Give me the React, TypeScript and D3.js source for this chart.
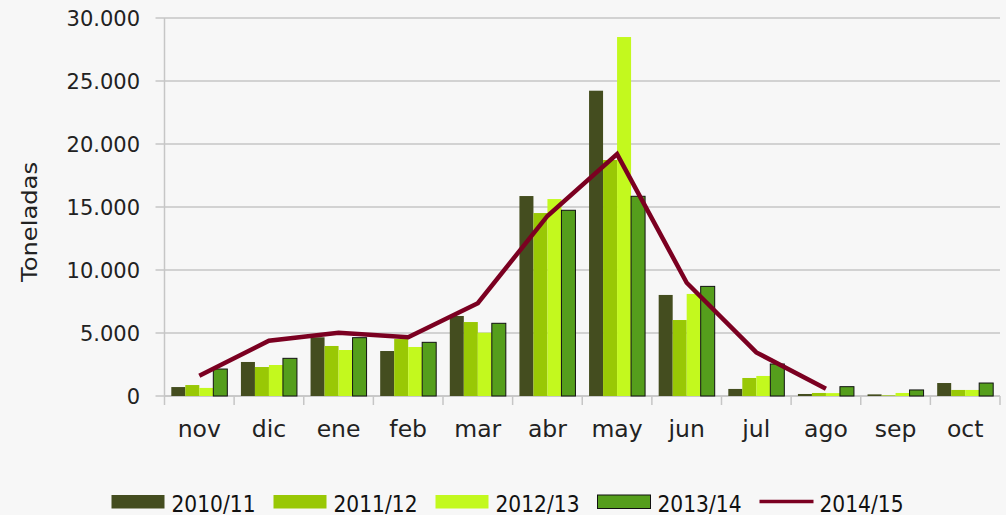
import { useEffect, useRef } from 'react'
import * as d3 from 'd3'

const MONTHS = ['nov', 'dic', 'ene', 'feb', 'mar', 'abr', 'may', 'jun', 'jul', 'ago', 'sep', 'oct']
const BAR_SERIES = ['2010/11', '2011/12', '2012/13', '2013/14']
const LINE_SERIES = '2014/15'

const S2010 = [710, 2700, 4660, 3570, 6350, 15870, 24230, 8020, 560, 160, 130, 1030]
const S2011 = [870, 2300, 3970, 4520, 5870, 14520, 18730, 6030, 1430, 240, 50, 480]
const S2012 = [640, 2460, 3650, 3890, 5020, 15630, 28490, 8100, 1590, 230, 240, 480]
const S2013 = [2140, 2990, 4630, 4260, 5770, 14740, 15850, 8700, 2540, 740, 480, 1030]
const S2014 = [1610, 4390, 5020, 4660, 7360, 14290, 19200, 8990, 3460, 580]

const Y_TICKS = [0, 5000, 10000, 15000, 20000, 25000, 30000]

const COLORS = ['#444d1f', '#99c805', '#c3f91e', '#559e1c']
const LINE_COLOR = '#7b0021'
const FONT = '"DejaVu Sans", sans-serif'

export default function App() {
  const ref = useRef<SVGSVGElement>(null)

  useEffect(() => {
    if (!ref.current) return
    const width = 1006
    const height = 515
    const left = 164.5
    const right = 1000
    const top = 18
    const bottom = 396

    const svg = d3.select(ref.current)
    svg.selectAll('*').remove()
    svg.attr('width', width).attr('height', height)

    svg.append('rect').attr('width', width).attr('height', height).attr('fill', '#f7f7f7')

    const x = d3.scaleBand<string>().domain(MONTHS).range([left, right]).paddingInner(0).paddingOuter(0)
    const xs = d3.scaleBand<string>().domain(BAR_SERIES).range([0, x.bandwidth()]).paddingInner(0).paddingOuter(0.486)
    const y = d3.scaleLinear().domain([0, 30000]).range([bottom, top])

    // grid
    svg.append('g')
      .selectAll('line')
      .data(Y_TICKS)
      .enter()
      .append('line')
      .attr('x1', left - 9)
      .attr('x2', right)
      .attr('y1', (d) => y(d))
      .attr('y2', (d) => y(d))
      .attr('stroke', '#c6c6c6')
      .attr('stroke-width', 1.5)

    // y labels
    svg.append('g')
      .selectAll('text')
      .data(Y_TICKS)
      .enter()
      .append('text')
      .attr('x', 140)
      .attr('y', (d) => y(d) + 8)
      .attr('text-anchor', 'end')
      .attr('font-family', FONT)
      .attr('font-size', 21)
      .attr('fill', '#222')
      .text((d) => (d === 0 ? '0' : d3.format(',')(d).replace(/,/g, '.')))

    svg.append('text')
      .attr('transform', 'translate(37,222) rotate(-90)')
      .attr('text-anchor', 'middle')
      .attr('font-family', FONT)
      .attr('font-size', 22)
      .attr('fill', '#222')
      .attr('textLength', 120)
      .attr('lengthAdjust', 'spacingAndGlyphs')
      .text('Toneladas')

    // axes
    svg.append('line')
      .attr('x1', left).attr('x2', left).attr('y1', top).attr('y2', bottom + 9)
      .attr('stroke', '#c6c6c6').attr('stroke-width', 1.5)
    svg.append('line')
      .attr('x1', left).attr('x2', right).attr('y1', bottom).attr('y2', bottom)
      .attr('stroke', '#c6c6c6').attr('stroke-width', 1.5)
    svg.append('g')
      .selectAll('line')
      .data(MONTHS)
      .enter()
      .append('line')
      .attr('x1', (d) => (x(d) as number) + x.bandwidth())
      .attr('x2', (d) => (x(d) as number) + x.bandwidth())
      .attr('y1', bottom)
      .attr('y2', bottom + 9)
      .attr('stroke', '#c6c6c6')
      .attr('stroke-width', 1.5)

    // bars
    const seriesData = [S2010, S2011, S2012, S2013]
    seriesData.forEach((vals, si) => {
      const name = BAR_SERIES[si]
      svg.append('g')
        .selectAll('rect')
        .data(vals)
        .enter()
        .append('rect')
        .attr('x', (_, i) => (x(MONTHS[i]) as number) + (xs(name) as number))
        .attr('y', (d) => y(d))
        .attr('width', xs.bandwidth())
        .attr('height', (d) => bottom - y(d))
        .attr('fill', COLORS[si])
        .attr('stroke', si === 3 ? '#111' : 'none')
        .attr('stroke-width', 1)
    })

    // line
    const line = d3.line<number>()
      .x((_, i) => (x(MONTHS[i]) as number) + x.bandwidth() / 2)
      .y((d) => y(d))
    svg.append('path')
      .datum(S2014)
      .attr('d', line)
      .attr('fill', 'none')
      .attr('stroke', LINE_COLOR)
      .attr('stroke-width', 4.5)

    // x labels
    svg.append('g')
      .selectAll('text')
      .data(MONTHS)
      .enter()
      .append('text')
      .attr('x', (d) => (x(d) as number) + x.bandwidth() / 2)
      .attr('y', 437)
      .attr('text-anchor', 'middle')
      .attr('font-family', FONT)
      .attr('font-size', 23.5)
      .attr('fill', '#222')
      .text((d) => d)

    // legend
    const legend = svg.append('g')
    const items = [...BAR_SERIES, LINE_SERIES]
    items.forEach((name, i) => {
      const lx = 111.5 + i * 162
      if (i < 4) {
        legend.append('rect')
          .attr('x', lx).attr('y', 495)
          .attr('width', 53).attr('height', 13.5)
          .attr('fill', COLORS[i])
          .attr('stroke', i === 3 ? '#111' : 'none')
          .attr('stroke-width', 1)
      } else {
        legend.append('line')
          .attr('x1', lx).attr('x2', lx + 54)
          .attr('y1', 501.5).attr('y2', 501.5)
          .attr('stroke', LINE_COLOR).attr('stroke-width', 3.5)
      }
      legend.append('text')
        .attr('x', lx + 60)
        .attr('y', 511.5)
        .attr('font-family', FONT)
        .attr('font-size', 23)
        .attr('fill', '#111')
        .attr('textLength', 84)
        .attr('lengthAdjust', 'spacingAndGlyphs')
        .text(name)
    })
  }, [])

  return (
    <div style={{ position: 'fixed', left: 0, top: 0 }}>
      <svg ref={ref} style={{ display: 'block' }} />
    </div>
  )
}
